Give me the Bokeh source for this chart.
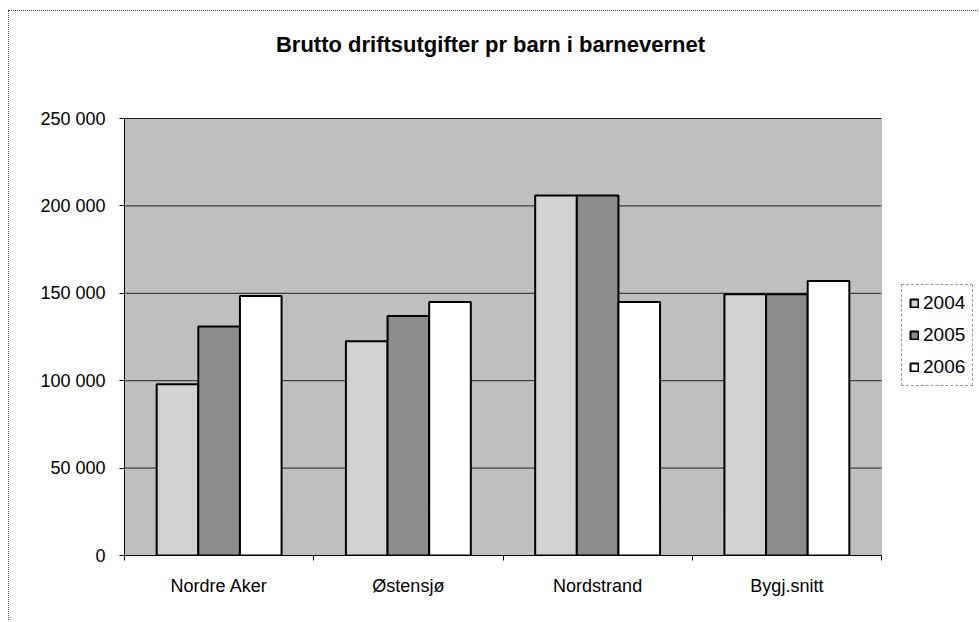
from bokeh.plotting import figure
from bokeh.models import (ColumnDataSource, Range1d, LinearAxis, FixedTicker, Legend,
                          LegendItem, Label, BoxAnnotation)
from bokeh.transform import dodge
from bokeh.embed import file_html
from bokeh.resources import INLINE

title_text = "Brutto driftsutgifter pr barn i barnevernet"
categories = ["Nordre Aker", "Østensjø", "Nordstrand", "Bygj.snitt"]
years = ["2004", "2005", "2006"]
v2004 = [98000, 122500, 206000, 149500]
v2005 = [131000, 137000, 206000, 149500]
v2006 = [148500, 145000, 145000, 157000]
y_ticks = [0, 50000, 100000, 150000, 200000, 250000]
y_tick_labels = ["0", "50 000", "100 000", "150 000", "200 000", "250 000"]

FONT = "Liberation Sans"

# layout (pixels)
FIG_W, FIG_H = 970, 610
LEFT, BOTTOM = 115, 66
AREA_W, AREA_H = 757, 437          # grey plot area size
FRAME_W, FRAME_H = FIG_W - LEFT, FIG_H - BOTTOM
NCAT = len(categories)
Y_MAX = y_ticks[-1]

centers = [i + 0.5 for i in range(NCAT)]
bounds_ticks = list(range(NCAT + 1))
src = ColumnDataSource(dict(xc=centers, cat=categories, y2004=v2004, y2005=v2005, y2006=v2006))

p = figure(width=FIG_W, height=FIG_H, output_backend="svg", toolbar_location=None,
           x_range=Range1d(0, NCAT * FRAME_W / AREA_W),
           y_range=Range1d(0, Y_MAX * FRAME_H / AREA_H),
           x_axis_location=None, y_axis_location=None,
           min_border_left=LEFT, min_border_right=0, min_border_top=0, min_border_bottom=BOTTOM,
           background_fill_color="white", border_fill_color="white")
p.styles = {"margin-left": "8px", "margin-top": "10px",
            "border-left": "1px dotted #555", "border-top": "1px dotted #555"}
p.outline_line_color = None
p.xgrid.visible = False
p.ygrid.visible = False

# grey plot area
area = BoxAnnotation(left=0, right=NCAT, bottom=0, top=Y_MAX, fill_color="#bfbfbf", fill_alpha=1,
                     line_color="#7a7a7a", line_width=1, level="image")
p.add_layout(area)

# y axis
yaxis = LinearAxis(ticker=FixedTicker(ticks=y_ticks), bounds=(0, Y_MAX),
                   major_label_overrides={t: l for t, l in zip(y_ticks, y_tick_labels)})
yaxis.axis_line_color = "black"
yaxis.major_tick_line_color = "black"
yaxis.major_tick_out = 5
yaxis.major_tick_in = 0
yaxis.minor_tick_line_color = None
yaxis.major_label_text_font = FONT
yaxis.major_label_text_font_size = "18px"
yaxis.major_label_text_color = "black"
yaxis.major_label_standoff = 14
p.add_layout(yaxis, "left")

# x axis: labels at group centres, tick marks (minor) at group boundaries
xa = LinearAxis(ticker=FixedTicker(ticks=centers, minor_ticks=bounds_ticks), bounds=(0, NCAT),
                major_label_overrides={c: n for c, n in zip(centers, categories)})
xa.axis_line_color = "black"
xa.major_tick_line_color = None
xa.major_tick_out = 0
xa.major_tick_in = 0
xa.minor_tick_line_color = "black"
xa.minor_tick_out = 5
xa.minor_tick_in = 0
xa.major_label_text_font = FONT
xa.major_label_text_font_size = "18px"
xa.major_label_text_color = "black"
xa.major_label_standoff = 15
p.add_layout(xa, "below")

# horizontal gridlines across the plot area only
grid_y = y_ticks[1:]
p.segment(x0=[0] * len(grid_y), x1=[NCAT] * len(grid_y), y0=grid_y, y1=grid_y,
          line_color="#202020", line_width=1)

w = 0.22
colors = ["#d2d2d2", "#8c8c8c", "#ffffff"]
fields = ["y2004", "y2005", "y2006"]
offsets = [-w, 0, w]
renderers = []
for f, off, c in zip(fields, offsets, colors):
    r = p.vbar(x=dodge("xc", off), top=f, width=w, source=src,
               fill_color=c, line_color="black", line_width=2)
    renderers.append(r)

legend = Legend(items=[LegendItem(label=y, renderers=[r]) for y, r in zip(years, renderers)],
                location=(777, 169))
legend.label_text_font = FONT
legend.label_text_font_size = "19px"
legend.label_text_color = "black"
legend.label_height = 22
legend.glyph_width = 10
legend.glyph_height = 10
legend.label_standoff = 4
legend.spacing = 10
legend.padding = 7
legend.margin = 0
legend.border_line_color = "#333333"
legend.border_line_width = 1
legend.border_line_dash = "1 1"
legend.background_fill_color = "white"
legend.background_fill_alpha = 1
p.add_layout(legend, "center")

title = Label(x=366, y=511, x_units="screen", y_units="screen", text=title_text,
              text_font=FONT, text_font_size="22px", text_font_style="bold",
              text_align="center", text_baseline="middle", text_color="black")
p.add_layout(title)

open("out.html", "w").write(file_html(p, INLINE))
